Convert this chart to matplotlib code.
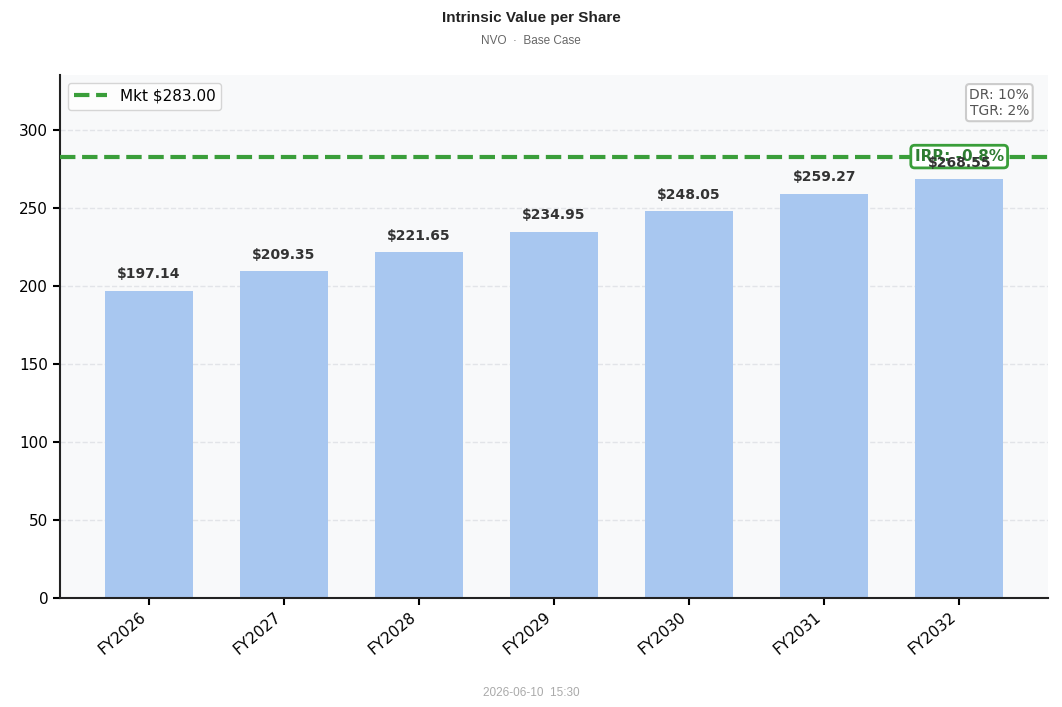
import matplotlib
matplotlib.use("Agg")
import matplotlib.pyplot as plt

categories = ["FY2026", "FY2027", "FY2028", "FY2029", "FY2030", "FY2031", "FY2032"]
values = [197.14, 209.35, 221.65, 234.95, 248.05, 259.27, 268.55]
market_price = 283.00
irr_text = "IRR: -0.8%"
dr_text = "DR: 10%\nTGR: 2%"
title = "Intrinsic Value per Share"
subtitle = "NVO  ·  Base Case"
footer = "2026-06-10  15:30"

fig = plt.figure(figsize=(10.62, 7.07), dpi=100)
ax = fig.add_axes([60/1062, 1-598/707, 988/1062, 523/707])
ax.set_facecolor("#f8f9fa")

x = list(range(len(categories)))
bars = ax.bar(x, values, width=0.65, color="#a8c7f0", zorder=2)
for xi, v in zip(x, values):
    ax.text(xi, v + 6, f"${v:.2f}", ha="center", va="bottom", fontsize=10,
            fontweight="bold", color="#333333", zorder=5)

ax.axhline(market_price, color="#3a9e3a", ls="--", lw=3,
           label=f"Mkt ${market_price:.2f}", zorder=3)

ax.set_ylim(0, 335.3)
ax.set_xticks(x)
ax.set_xticklabels(categories, rotation=40, ha="right", fontsize=11)
ax.tick_params(axis="y", labelsize=11)
ax.tick_params(axis="both", width=1.5, length=5)
ax.yaxis.grid(True, ls="--", color="#e2e4e8", lw=1, zorder=0)
ax.set_axisbelow(True)
for s in ["top", "right"]:
    ax.spines[s].set_visible(False)
for s in ["left", "bottom"]:
    ax.spines[s].set_linewidth(1.5)
    ax.spines[s].set_color("#222222")

leg = ax.legend(loc="upper left", fontsize=11, frameon=True, fancybox=True, handlelength=2.2)
leg.get_frame().set_edgecolor("#cccccc")

ax.text(0.981, 0.976, dr_text, transform=ax.transAxes, ha="right", va="top",
        fontsize=10, color="#555555",
        bbox=dict(boxstyle="round,pad=0.25", fc="white", ec="#cccccc", lw=1.5))

ax.text(x[-1], market_price, irr_text, ha="center", va="center", fontsize=11,
        fontweight="bold", color="#2e7d32", zorder=4,
        bbox=dict(boxstyle="round,pad=0.25", fc="white", ec="#3a9e3a", lw=2))

fig.text(0.5, 1-18/707, title, ha="center", va="center", fontsize=11,
         fontweight="bold", family="Liberation Sans", color="#222222")
fig.text(0.5, 1-41/707, subtitle, ha="center", va="center", fontsize=8.5,
         family="Liberation Sans", color="#666666")
fig.text(0.5, 1-693/707, footer, ha="center", va="center", fontsize=8.5,
         family="Liberation Sans", color="#aaaaaa")

fig.savefig("out.png", dpi=100)
